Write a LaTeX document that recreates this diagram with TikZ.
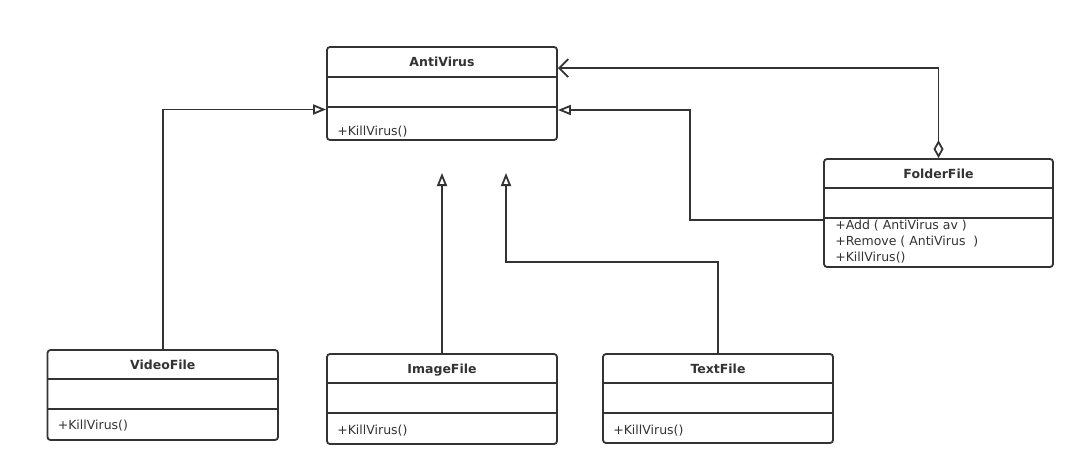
\documentclass[tikz,border=0pt]{standalone}
\usepackage{fontspec}
\setmainfont{DejaVu Sans}
\usetikzlibrary{arrows.meta,calc}
\definecolor{ink}{HTML}{333333}
\begin{document}
\begin{tikzpicture}[x=1pt,y=-1pt,
  cls/.style={draw=ink,line width=1.8pt,rounded corners=3pt,rectangle,inner sep=0pt},
  sepline/.style={draw=ink,line width=1.8pt},
  title/.style={anchor=base,font=\fontsize{12.5}{15}\selectfont\bfseries,text=ink,inner sep=0pt},
  member/.style={anchor=base west,font=\fontsize{12.5}{15}\selectfont,text=ink,inner sep=0pt},
  conn/.style={draw=ink,line width=1.8pt},
  gen/.style={conn,-{Triangle[open,length=13pt,width=10pt]}},
  aggr/.style={conn,{Diamond[open,length=18pt,width=10pt]}-{Straight Barb[length=9pt,width=18pt]}}
]
\fill[white] (0,0) rectangle (1086,476);

% AntiVirus
\node[cls,minimum width=230pt,minimum height=93pt] (av) at (442,93.5) {};
\draw[sepline] ([yshift=-31pt]av.north west) -- ([yshift=-31pt]av.north east);
\draw[sepline] ([yshift=-61pt]av.north west) -- ([yshift=-61pt]av.north east);
\node[title] (avt) at ([yshift=-20pt]av.north) {AntiVirus};
\node[member] (avm) at ([xshift=11pt,yshift=-89pt]av.north west) {+KillVirus()};

% FolderFile
\node[cls,minimum width=229pt,minimum height=108pt] (ff) at (938.5,213) {};
\draw[sepline] ([yshift=-30pt]ff.north west) -- ([yshift=-30pt]ff.north east);
\draw[sepline] ([yshift=-60pt]ff.north west) -- ([yshift=-60pt]ff.north east);
\node[title] (fft) at ([yshift=-20pt]ff.north) {FolderFile};
\node[member] (ffm1) at ([xshift=12pt,yshift=-71pt]ff.north west) {+Add ( AntiVirus av )};
\node[member] (ffm2) at ([xshift=12pt,yshift=-87pt]ff.north west) {+Remove ( AntiVirus\ \ )};
\node[member] (ffm3) at ([xshift=12pt,yshift=-103pt]ff.north west) {+KillVirus()};

% VideoFile
\node[cls,minimum width=230.5pt,minimum height=90pt] (vf) at (162.75,395) {};
\draw[sepline] ([yshift=-30pt]vf.north west) -- ([yshift=-30pt]vf.north east);
\draw[sepline] ([yshift=-60pt]vf.north west) -- ([yshift=-60pt]vf.north east);
\node[title] (vft) at ([yshift=-20pt]vf.north) {VideoFile};
\node[member] (vfm) at ([xshift=11pt,yshift=-80pt]vf.north west) {+KillVirus()};

% ImageFile
\node[cls,minimum width=230pt,minimum height=90pt] (if) at (442,399) {};
\draw[sepline] ([yshift=-30pt]if.north west) -- ([yshift=-30pt]if.north east);
\draw[sepline] ([yshift=-60pt]if.north west) -- ([yshift=-60pt]if.north east);
\node[title] (ift) at ([yshift=-20pt]if.north) {ImageFile};
\node[member] (ifm) at ([xshift=11pt,yshift=-81pt]if.north west) {+KillVirus()};

% TextFile
\node[cls,minimum width=230pt,minimum height=89pt] (tf) at (718,398.5) {};
\draw[sepline] ([yshift=-30pt]tf.north west) -- ([yshift=-30pt]tf.north east);
\draw[sepline] ([yshift=-60pt]tf.north west) -- ([yshift=-60pt]tf.north east);
\node[title] (tft) at ([yshift=-20pt]tf.north) {TextFile};
\node[member] (tfm) at ([xshift=11pt,yshift=-81pt]tf.north west) {+KillVirus()};

% free arrow ends
\coordinate (ifend) at (442,173);
\coordinate (tfend) at (506,173);

% connectors
\draw[aggr] (ff.north) |- ([yshift=-22pt]av.north east);
\draw[gen] ([yshift=-7pt]ff.west) -- ++(-133,0) |- ([yshift=-16.5pt]av.east);
\draw[gen] (vf.north) |- ([yshift=-16pt]av.west);
\draw[gen] (if.north) -- (ifend);
\draw[gen] (tf.north) -- ++(0,-91) -| (tfend);
\end{tikzpicture}
\end{document}
